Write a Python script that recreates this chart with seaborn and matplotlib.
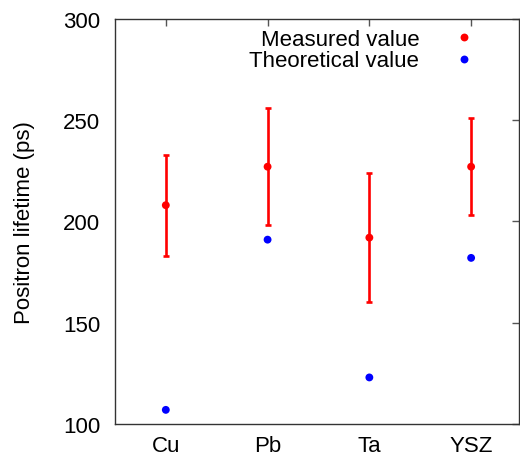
import matplotlib
matplotlib.use("Agg")
import matplotlib.pyplot as plt
import seaborn as sns
import pandas as pd
import numpy as np

categories = ["Cu", "Pb", "Ta", "YSZ"]
measured = [208, 227, 192, 227]
measured_low = [183, 198, 160, 203]
measured_high = [233, 256, 224, 251]
theoretical = [107, 191, 123, 182]

sns.set_theme(style="white")
plt.rcParams['font.family'] = ['Liberation Sans', 'DejaVu Sans']
plt.rcParams['text.color'] = 'black'
plt.rcParams['axes.labelcolor'] = 'black'

FS = 16

fig = plt.figure(figsize=(5.2, 4.6), dpi=100)
ax = fig.add_axes([0.221, 0.076, 0.777, 0.881])

pos = np.arange(len(categories))
df = pd.DataFrame({"pos": np.concatenate([pos, pos]),
                   "value": measured + theoretical,
                   "kind": ["Measured value"] * 4 + ["Theoretical value"] * 4})

meas = np.array(measured)
yerr = np.vstack([meas - np.array(measured_low), np.array(measured_high) - meas])
ax.errorbar(pos, meas, yerr=yerr, fmt="none", ecolor="#ff0000", elinewidth=1.9,
            capsize=2.5, capthick=1.9, zorder=2)
sns.scatterplot(data=df, x="pos", y="value", hue="kind",
                palette={"Measured value": "#ff0000", "Theoretical value": "#0000ff"},
                s=32, edgecolor="none", ax=ax, zorder=3)

ax.set_xlim(-0.5, 3.47)
ax.set_ylim(100, 300)
ax.set_xticks(pos)
ax.set_xticklabels(categories)
ax.set_yticks([100, 150, 200, 250, 300])
ax.set_xlabel("")
ax.set_ylabel("Positron lifetime (ps)", fontsize=FS, labelpad=20)
ax.tick_params(axis="both", direction="in", length=5, width=1, color="#555555",
               labelsize=FS, top=True, right=True, labelcolor="black")
ax.tick_params(axis="x", pad=8)
ax.tick_params(axis="y", pad=10.5)
for s in ax.spines.values():
    s.set_color("#333333")
    s.set_linewidth(1)

leg = ax.legend(loc="upper right", bbox_to_anchor=(0.891, 0.975), frameon=False,
                markerfirst=False, fontsize=FS, handlelength=1.0,
                handletextpad=1.5, labelspacing=0.02, borderaxespad=0.0,
                borderpad=0.0)

fig.savefig("out.png", dpi=100)
